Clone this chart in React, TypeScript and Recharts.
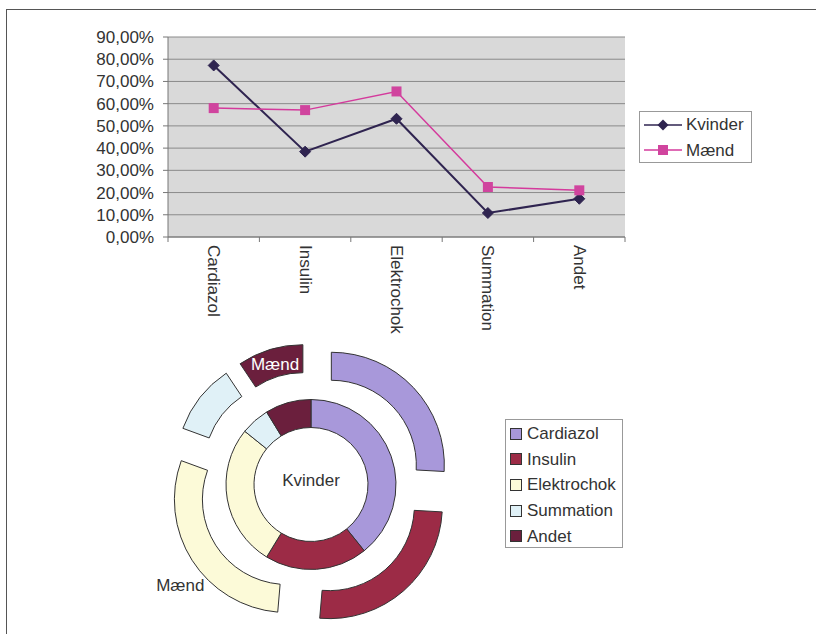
import React from "react";
import {
  LineChart,
  Line,
  XAxis,
  YAxis,
  CartesianGrid,
  Legend,
  PieChart,
  Pie,
  Cell,
  Sector,
} from "recharts";

const categories = ["Cardiazol", "Insulin", "Elektrochok", "Summation", "Andet"];
const kvinder = [0.772, 0.384, 0.532, 0.108, 0.172];
const maend = [0.58, 0.571, 0.655, 0.225, 0.21];
const yTicks = [0, 0.1, 0.2, 0.3, 0.4, 0.5, 0.6, 0.7, 0.8, 0.9];
const sliceColors = ["#a898da", "#9c2b46", "#fcfad8", "#e0f1f7", "#6b1f3d"];
// "Mænd" is only labelled on two of the outer slices
const maendLabels = ["", "", "Mænd", "", "Mænd"];
const centerLabel = "Kvinder";

const FONT = '"Liberation Sans", Arial, sans-serif';
const TEXT = "#333";
const KV_COLOR = "#2f2450";
const MA_COLOR = "#d43a9c";
const EXPLODE = 28;
const RAD = Math.PI / 180;

const lineData = categories.map((name, i) => ({
  name,
  Kvinder: kvinder[i],
  Mænd: maend[i],
}));
const kvinderSlices = categories.map((name, i) => ({ name, value: kvinder[i] }));
const maendSlices = categories.map((name, i) => ({ name, value: maend[i] }));

const pct = (v: number) => (v * 100).toFixed(2).replace(".", ",") + "%";

const Diamond = (p: any) => {
  const { cx, cy, index } = p;
  const s = 5.5;
  return (
    <path
      key={"d" + index}
      d={`M${cx},${cy - s} L${cx + s},${cy} L${cx},${cy + s} L${cx - s},${cy} Z`}
      fill={KV_COLOR}
      stroke={KV_COLOR}
    />
  );
};

const Square = (p: any) => {
  const { cx, cy, index } = p;
  return (
    <rect key={"s" + index} x={cx - 5} y={cy - 5} width={10} height={10} fill="#d0449e" />
  );
};

// category label below the band centre, tick marks on the band edges
const CategoryTick = (p: any) => {
  const { x, y, payload, index } = p;
  const half = payload.offset || 0;
  return (
    <g>
      <line x1={x - half} x2={x - half} y1={y} y2={y + 5} stroke="#777" />
      {index === categories.length - 1 && (
        <line x1={x + half} x2={x + half} y1={y} y2={y + 5} stroke="#777" />
      )}
      <text
        x={x}
        y={y + 8}
        transform={`rotate(90 ${x} ${y + 8})`}
        textAnchor="start"
        dominantBaseline="central"
        fontSize={17}
        fontFamily={FONT}
        fill={TEXT}
      >
        {payload.value}
      </text>
    </g>
  );
};

const LineLegend = (props: any) => {
  const { payload = [] } = props;
  return (
    <div
      style={{
        border: "1px solid #999",
        background: "#fff",
        width: 113,
        height: 52,
        boxSizing: "border-box",
        fontFamily: FONT,
        fontSize: 17,
        color: TEXT,
      }}
    >
      {payload.map((e: any) => (
        <div key={e.value} style={{ height: 25.5, display: "flex", alignItems: "center" }}>
          <svg width={46} height={14} style={{ flex: "none" }}>
            <line x1={4} x2={42} y1={7} y2={7} stroke={e.color} strokeWidth={1.6} />
            {e.value === "Kvinder" ? (
              <path d="M23,1.5 L28.5,7 L23,12.5 L17.5,7 Z" fill={KV_COLOR} />
            ) : (
              <rect x={18} y={2} width={10} height={10} fill="#d0449e" />
            )}
          </svg>
          <span style={{ lineHeight: 1 }}>{e.value}</span>
        </div>
      ))}
    </div>
  );
};

const PieLegend = () => (
  <div
    style={{
      border: "1px solid #999",
      background: "#fff",
      width: 118,
      height: 129,
      boxSizing: "border-box",
      paddingTop: 1,
      fontFamily: FONT,
      fontSize: 17,
      color: TEXT,
    }}
  >
    {categories.map((c, i) => (
      <div key={c} style={{ height: 25.6, display: "flex", alignItems: "center" }}>
        <span
          style={{
            display: "inline-block",
            width: 10,
            height: 10,
            marginLeft: 4,
            marginRight: 5,
            background: sliceColors[i],
            border: "1px solid #333",
          }}
        />
        <span style={{ lineHeight: 1 }}>{c}</span>
      </div>
    ))}
  </div>
);

// outer ring slices pulled away from the centre along their mid angle
const ExplodedSector = (p: any) => {
  const { cx, cy, midAngle } = p;
  const dx = EXPLODE * Math.cos(-midAngle * RAD);
  const dy = EXPLODE * Math.sin(-midAngle * RAD);
  return <Sector {...p} cx={cx + dx} cy={cy + dy} />;
};

// series name in the hole of the inner ring
const kvinderLabel = (p: any) => {
  const { cx, cy, index } = p;
  if (index !== 0) return null;
  return (
    <text
      key="center"
      x={cx}
      y={cy - 4}
      textAnchor="middle"
      dominantBaseline="central"
      fontSize={17}
      fontFamily={FONT}
      fill={TEXT}
    >
      {centerLabel}
    </text>
  );
};

const maendLabel = (p: any) => {
  const { cx, cy, midAngle, innerRadius, outerRadius, index } = p;
  const text = maendLabels[index];
  if (!text) return null;
  const ex = cx + EXPLODE * Math.cos(-midAngle * RAD);
  const ey = cy + EXPLODE * Math.sin(-midAngle * RAD);
  const inside = index === categories.length - 1;
  const r = inside ? (innerRadius + outerRadius) / 2 - 3 : outerRadius + 14;
  const x = ex + r * Math.cos(-midAngle * RAD);
  const y = ey + r * Math.sin(-midAngle * RAD) + (inside ? -1 : 18);
  return (
    <text
      key={"l" + index}
      x={x}
      y={y}
      textAnchor="middle"
      dominantBaseline="central"
      fontSize={17}
      fontFamily={FONT}
      fill={inside ? "#fff" : TEXT}
    >
      {text}
    </text>
  );
};

export default function App() {
  return (
    <div
      style={{
        position: "absolute",
        left: 0,
        top: 0,
        width: 816,
        height: 634,
        overflow: "hidden",
        background: "#fff",
        fontFamily: FONT,
      }}
    >
      <div
        style={{
          position: "absolute",
          left: 6,
          top: 9,
          width: 840,
          height: 660,
          border: "1.5px solid #555",
        }}
      />
      <div style={{ position: "absolute", left: 0, top: 0 }}>
        <LineChart
          width={816}
          height={345}
          data={lineData}
          margin={{ top: 37, right: 191, bottom: 22, left: 0 }}
        >
          <CartesianGrid
            yAxisId="left"
            vertical={false}
            stroke="#8a8a8a"
            fill="#d9d9d9"
            fillOpacity={1}
          />
          <XAxis
            dataKey="name"
            scale="band"
            height={86}
            interval={0}
            tickSize={0}
            tickMargin={0}
            tickLine={false}
            stroke="#777"
            tick={<CategoryTick />}
          />
          <YAxis
            yAxisId="left"
            width={168}
            domain={[0, 0.9]}
            ticks={yTicks}
            interval={0}
            tickFormatter={pct}
            tickSize={5}
            tickMargin={9}
            stroke="#777"
            tick={{ fontSize: 17, fill: TEXT, fontFamily: FONT }}
          />
          <YAxis
            yAxisId="right"
            orientation="right"
            width={0}
            domain={[0, 0.9]}
            tick={false}
            tickLine={false}
            stroke="#8a8a8a"
          />
          <Line
            yAxisId="left"
            dataKey="Kvinder"
            stroke={KV_COLOR}
            strokeWidth={2}
            dot={Diamond}
            isAnimationActive={false}
          />
          <Line
            yAxisId="left"
            dataKey="Mænd"
            stroke={MA_COLOR}
            strokeWidth={1.5}
            dot={Square}
            isAnimationActive={false}
          />
          <Legend
            layout="vertical"
            align="center"
            verticalAlign="middle"
            content={<LineLegend />}
            wrapperStyle={{ left: 639, top: 111, width: 113, height: 52 }}
          />
        </LineChart>
      </div>
      <div style={{ position: "absolute", left: 0, top: 330 }}>
        <PieChart width={816} height={304} margin={{ top: 0, right: 0, bottom: 0, left: 0 }}>
          <Pie
            data={kvinderSlices}
            dataKey="value"
            nameKey="name"
            cx={311}
            cy={154.5}
            innerRadius={57}
            outerRadius={85}
            startAngle={90}
            endAngle={-270}
            stroke="#333"
            strokeWidth={1}
            label={kvinderLabel}
            labelLine={false}
            isAnimationActive={false}
          >
            {kvinderSlices.map((s, i) => (
              <Cell key={s.name} fill={sliceColors[i]} />
            ))}
          </Pie>
          <Pie
            data={maendSlices}
            dataKey="value"
            nameKey="name"
            cx={311}
            cy={154.5}
            innerRadius={85}
            outerRadius={113}
            startAngle={90}
            endAngle={-270}
            stroke="#333"
            strokeWidth={1}
            shape={ExplodedSector}
            label={maendLabel}
            labelLine={false}
            isAnimationActive={false}
          >
            {maendSlices.map((s, i) => (
              <Cell key={s.name} fill={sliceColors[i]} />
            ))}
          </Pie>
          <Legend
            layout="vertical"
            align="center"
            verticalAlign="middle"
            content={<PieLegend />}
            wrapperStyle={{ left: 505, top: 89, width: 118, height: 129 }}
          />
        </PieChart>
      </div>
    </div>
  );
}
